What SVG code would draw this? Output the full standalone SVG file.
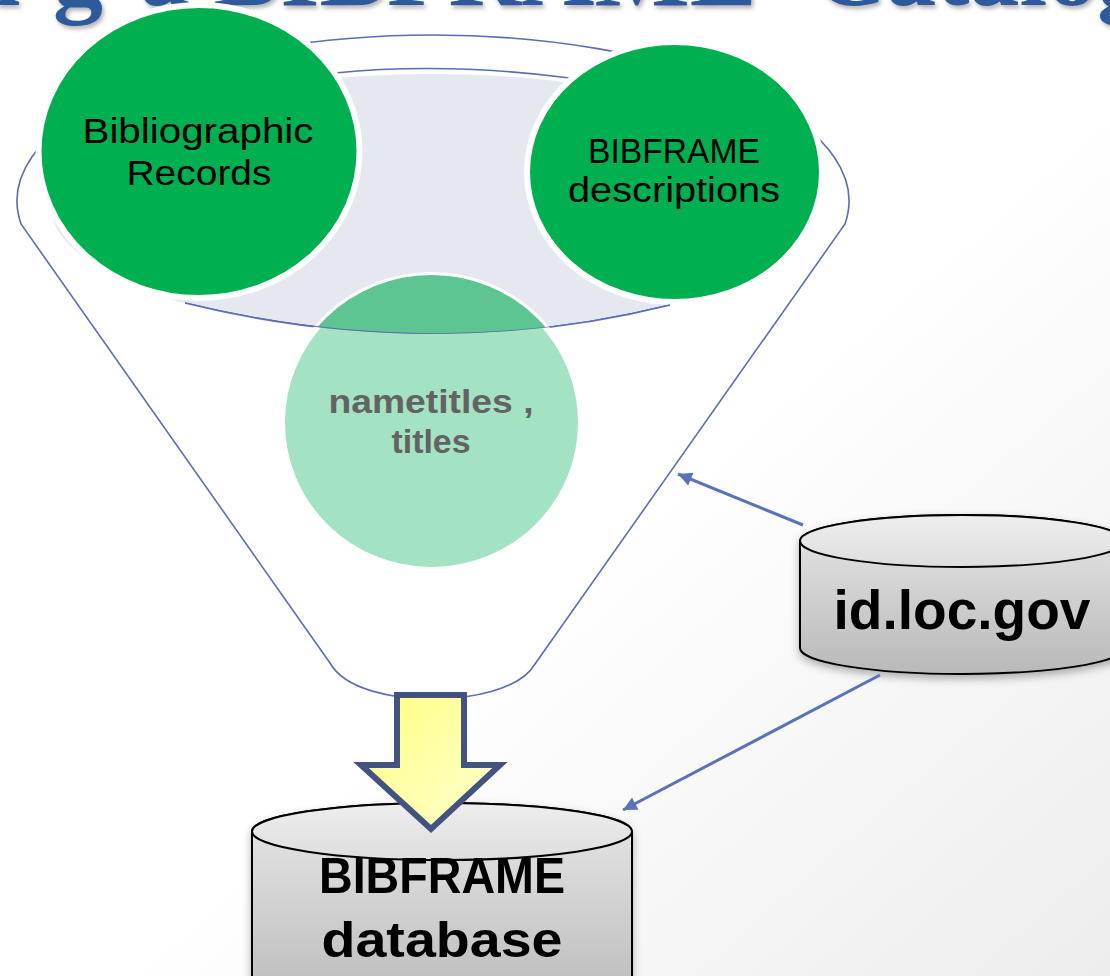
<svg xmlns="http://www.w3.org/2000/svg" width="1110" height="976" viewBox="0 0 1110 976">
<defs>
  <linearGradient id="bg" x1="0" y1="0" x2="1" y2="1">
    <stop offset="0.55" stop-color="#ffffff"/>
    <stop offset="1" stop-color="#ededed"/>
  </linearGradient>
  <linearGradient id="cylBody" x1="0" y1="0" x2="0" y2="1">
    <stop offset="0" stop-color="#e8e8e8"/>
    <stop offset="1" stop-color="#b9b9b9"/>
  </linearGradient>
  <linearGradient id="cylTop" x1="0" y1="0" x2="0" y2="1">
    <stop offset="0" stop-color="#eeeeee"/>
    <stop offset="1" stop-color="#dedede"/>
  </linearGradient>
  <linearGradient id="yel" x1="0" y1="0" x2="1" y2="1">
    <stop offset="0" stop-color="#ffff80"/>
    <stop offset="1" stop-color="#ffffd2"/>
  </linearGradient>
  <filter id="sh" x="-10%" y="-10%" width="130%" height="140%">
    <feDropShadow dx="0" dy="4" stdDeviation="4" flood-color="#000" flood-opacity="0.3"/>
  </filter>
  <filter id="tsh" x="-5%" y="-50%" width="110%" height="200%">
    <feDropShadow dx="2" dy="3" stdDeviation="2" flood-color="#000" flood-opacity="0.3"/>
  </filter>
  <marker id="ah" viewBox="0 0 10 10" refX="10" refY="5" markerWidth="5" markerHeight="4.6" orient="auto">
    <path d="M0,0 L10,5 L0,10 z" fill="#5b72b8"/>
  </marker>
  <clipPath id="rimClip">
    <path d="M185,303 Q434,364 670,305 L670,250 L185,250 Z"/>
  </clipPath>
  <style>
    .lbl { font-family: "Liberation Sans", Arial, sans-serif; fill: #000; text-anchor: middle; }
    .thin { font-size: 35px; font-weight: normal; }
    .bold { font-weight: bold; }
    .outline { fill: none; stroke: #5b6db5; stroke-width: 1.6; }
    .circ { stroke: #ffffff; stroke-width: 6; }
    .cyl { stroke: #000; stroke-width: 2; }
    .conn { stroke: #5b72b8; stroke-width: 3; fill: none; marker-end: url(#ah); }
  </style>
</defs>

<rect x="0" y="0" width="1110" height="976" fill="url(#bg)"/>

<g id="title" filter="url(#tsh)">
  <text y="5" font-family="'Liberation Serif', 'Times New Roman', serif" font-weight="bold" font-size="100" fill="#2f5a9b"><tspan x="-35">n</tspan><tspan x="53">g</tspan><tspan x="140">a</tspan><tspan x="213" textLength="544" lengthAdjust="spacingAndGlyphs">BIBFRAME</tspan><tspan x="814">Catalog</tspan></text>
</g>

<g id="funnel">
  <path d="M21,224 A416,166 0 1 1 845,224 L535,664 C520,690 470,699 432,699 C394,699 345,690 330,663 Z" fill="#ffffff" stroke="#5b6db5" stroke-width="1.6"/>
  <ellipse cx="432" cy="204" rx="382" ry="130" fill="#e6e8f0"/>
  <path class="outline" d="M335,73 Q445,62 570,78"/>
  <path class="outline" d="M185,303 Q434,364 670,305"/>
</g>

<g id="node-bibliographic-records">
  <ellipse class="circ" cx="199" cy="151.5" rx="160.5" ry="146.5" fill="#00b050"/>
  <text class="lbl thin" x="198" y="143" textLength="231" lengthAdjust="spacingAndGlyphs">Bibliographic</text>
  <text class="lbl thin" x="199" y="185" textLength="145" lengthAdjust="spacingAndGlyphs">Records</text>
</g>

<g id="node-bibframe-descriptions">
  <ellipse class="circ" cx="674.5" cy="172" rx="147.5" ry="130" fill="#00b050"/>
  <text class="lbl thin" x="674" y="163" textLength="172" lengthAdjust="spacingAndGlyphs">BIBFRAME</text>
  <text class="lbl thin" x="674" y="202" textLength="212" lengthAdjust="spacingAndGlyphs">descriptions</text>
</g>

<g id="node-nametitles">
  <ellipse class="circ" cx="431.5" cy="422.5" rx="149.5" ry="147.5" fill="#a3e2c2"/>
  <ellipse cx="431.5" cy="422.5" rx="149.5" ry="147.5" fill="#5cc592" clip-path="url(#rimClip)"/>
  <path class="outline" d="M185,303 Q434,364 670,305" clip-path="url(#rimClip)"/>
  <text class="lbl bold" x="431" y="413" font-size="34" style="fill:#636363" textLength="205" lengthAdjust="spacingAndGlyphs">nametitles ,</text>
  <text class="lbl bold" x="431" y="453" font-size="34" style="fill:#636363" textLength="79" lengthAdjust="spacingAndGlyphs">titles</text>
</g>

<g id="node-bibframe-database" filter="url(#sh)">
  <path class="cyl" d="M252,831.5 V985 A190,28.5 0 0 0 632,985 V831.5 A190,28.5 0 0 0 252,831.5 Z" fill="url(#cylBody)"/>
  <ellipse class="cyl" cx="442" cy="831.5" rx="190" ry="28.5" fill="url(#cylTop)"/>
  <text class="lbl bold" x="442" y="893" font-size="50" textLength="246" lengthAdjust="spacingAndGlyphs">BIBFRAME</text>
  <text class="lbl bold" x="442" y="957" font-size="50" textLength="241" lengthAdjust="spacingAndGlyphs">database</text>
</g>

<g id="big-arrow">
  <polygon points="397,695 464,695 464,765 500,765 431,829 361,765 397,765" fill="url(#yel)" stroke="#44527f" stroke-width="6" stroke-linejoin="miter"/>
</g>

<g id="node-id-loc-gov" filter="url(#sh)">
  <path class="cyl" d="M800,541 V648 A162,26 0 0 0 1124,648 V541 A162,26 0 0 0 800,541 Z" fill="url(#cylBody)"/>
  <ellipse class="cyl" cx="962" cy="541" rx="162" ry="26" fill="url(#cylTop)"/>
  <text class="lbl bold" x="962" y="629" font-size="55" textLength="257" lengthAdjust="spacingAndGlyphs">id.loc.gov</text>
</g>

<g id="connectors">
  <line class="conn" x1="803" y1="525" x2="678" y2="474"/>
  <line class="conn" x1="880" y1="675" x2="623" y2="810"/>
</g>
</svg>
